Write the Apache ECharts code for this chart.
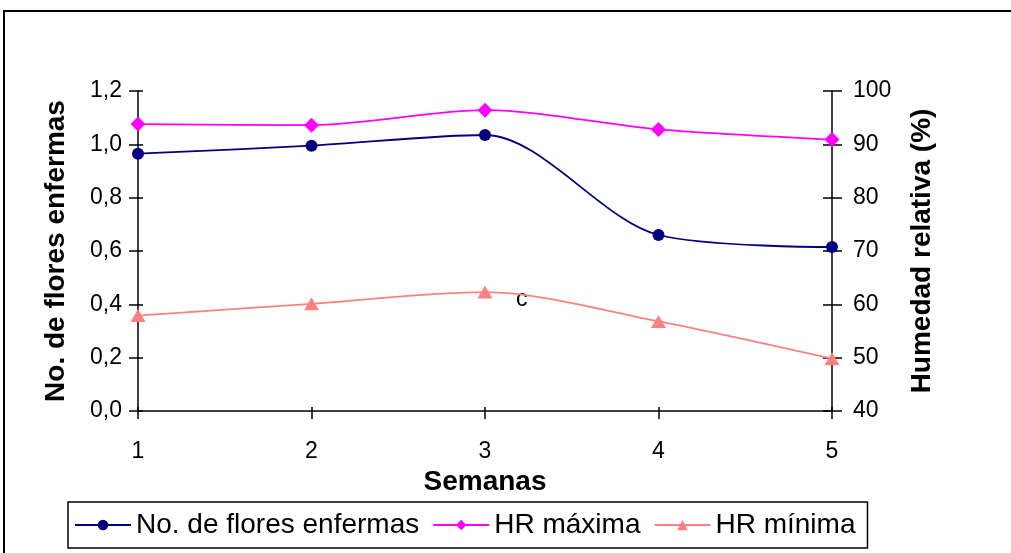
<!DOCTYPE html>
<html><head><meta charset="utf-8">
<script src="https://cdn.jsdelivr.net/npm/echarts@6/dist/echarts.min.js"></script>
<style>html,body{margin:0;padding:0;background:#fff}#c{width:1011px;height:553px}</style>
</head><body><div id="c"></div>
<script>
const semanas = ['1','2','3','4','5'];
const floresEnfermas = [0.965, 0.995, 1.035, 0.66, 0.615];
const hrMaxima = [93.8, 93.6, 96.4, 92.8, 90.9];
const hrMinima = [57.9, 60.1, 62.3, 56.8, 49.8];
const leftTicks = {min:0, max:1.2, interval:0.2};
const rightTicks = {min:40, max:100, interval:10};

const chart = echarts.init(document.getElementById('c'));
const font = '"Liberation Sans", Arial, sans-serif';
const axisLine = {show:true, lineStyle:{color:'#000', width:1.5}};
const tickLbl = {color:'#000', fontSize:23, fontFamily:font};
const titleStyle = {color:'#000', fontSize:28, fontWeight:'bold', fontFamily:font};
chart.setOption({
  animation:false,
  grid:{left:138, right:179, top:91, bottom:142},
  xAxis:[
    {type:'category', data:semanas, boundaryGap:false, axisLine,
     axisTick:{show:true, alignWithLabel:true, length:8, lineStyle:{color:'#000', width:1.5}},
     axisLabel:{...tickLbl, margin:29}, splitLine:{show:false},
     name:'Semanas', nameLocation:'middle', nameGap:54, nameTextStyle:titleStyle},
    {type:'category', data:semanas, boundaryGap:false, position:'bottom', axisLine:{show:false},
     axisTick:{show:true, inside:true, length:4, lineStyle:{color:'#000', width:1.5}},
     axisLabel:{show:false}, splitLine:{show:false}}
  ],
  yAxis:[
    {type:'value', position:'left', ...leftTicks, axisLine,
     axisTick:{show:true, length:9, lineStyle:{color:'#000', width:1.5}},
     axisLabel:{...tickLbl, margin:16, formatter:v=>v.toFixed(1).replace('.',',')},
     splitLine:{show:false},
     name:'No. de flores enfermas', nameLocation:'middle', nameGap:68, nameTextStyle:titleStyle},
    {type:'value', position:'right', ...rightTicks, axisLine,
     axisTick:{show:true, length:10, lineStyle:{color:'#000', width:1.5}},
     axisLabel:{...tickLbl, margin:21}, splitLine:{show:false},
     name:'Humedad relativa (%)', nameLocation:'middle', nameGap:76, nameRotate:90,
     nameTextStyle:titleStyle},
    {type:'value', position:'left', ...leftTicks, axisLine:{show:false},
     axisTick:{show:true, inside:true, length:5, lineStyle:{color:'#000', width:1.5}},
     axisLabel:{show:false}, splitLine:{show:false}},
    {type:'value', position:'right', ...rightTicks, axisLine:{show:false},
     axisTick:{show:true, inside:true, length:9, lineStyle:{color:'#000', width:1.5}},
     axisLabel:{show:false}, splitLine:{show:false}}
  ],
  legend:{
    bottom:5, left:68, itemGap:13, itemWidth:56, itemHeight:13,
    padding:[9,12,9,6],
    borderColor:'#000', borderWidth:1.5,
    textStyle:{color:'#000', fontSize:28, fontFamily:font},
    data:['No. de flores enfermas','HR máxima','HR mínima']
  },
  series:[
    {name:'No. de flores enfermas', type:'line', yAxisIndex:0, data:floresEnfermas,
     smooth:0.3, symbol:'circle', symbolSize:12,
     lineStyle:{color:'#000080', width:1.8}, itemStyle:{color:'#000080'}},
    {name:'HR máxima', type:'line', yAxisIndex:1, data:hrMaxima,
     smooth:0.3, symbol:'diamond', symbolSize:[15,15],
     lineStyle:{color:'#FF00FF', width:1.8}, itemStyle:{color:'#FF00FF'}},
    {name:'HR mínima', type:'line', yAxisIndex:1, data:hrMinima,
     smooth:0.3, symbol:'triangle', symbolSize:[15,13],
     lineStyle:{color:'#FF8080', width:1.8}, itemStyle:{color:'#FF8080'}}
  ],
  graphic:[
    {type:'rect', shape:{x:4, y:11, width:1020, height:560}, style:{fill:null, stroke:'#000', lineWidth:2}, silent:true},
    {type:'text', left:516, top:288, style:{text:'c', fontSize:23, fontFamily:font, fill:'#000'}}
  ]
});
</script></body></html>
